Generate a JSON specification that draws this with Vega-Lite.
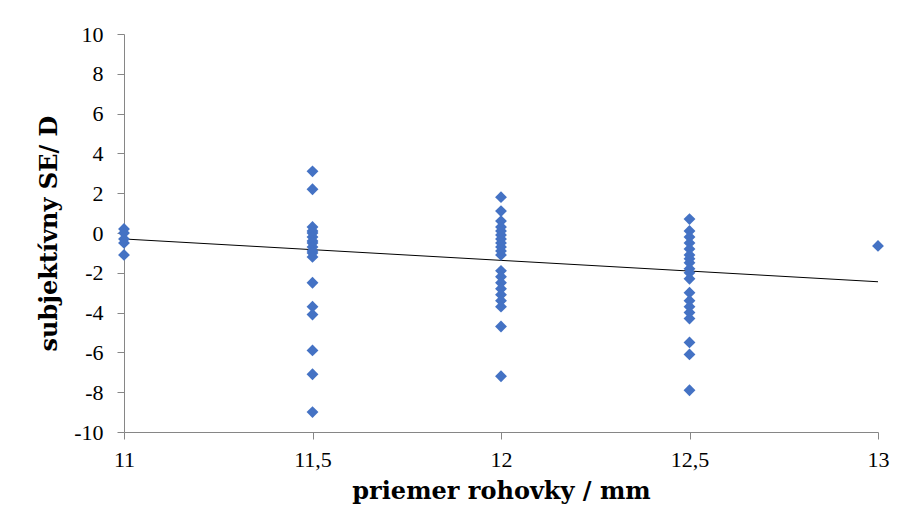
{
  "$schema": "https://vega.github.io/schema/vega-lite/v6.json",
  "width": 754,
  "height": 398,
  "autosize": "none",
  "padding": {"left": 124, "top": 34, "right": 33, "bottom": 83},
  "background": "white",
  "config": {"view": {"stroke": null}},
  "datasets": {
    "pts": [
      {"d": 11, "se": 0.2}, {"d": 11, "se": 0.0}, {"d": 11, "se": -0.3}, {"d": 11, "se": -0.5}, {"d": 11, "se": -1.1},
      {"d": 11.5, "se": 3.1}, {"d": 11.5, "se": 2.2}, {"d": 11.5, "se": 0.3}, {"d": 11.5, "se": 0.1}, {"d": 11.5, "se": 0.0},
      {"d": 11.5, "se": -0.2}, {"d": 11.5, "se": -0.4}, {"d": 11.5, "se": -0.5}, {"d": 11.5, "se": -0.7}, {"d": 11.5, "se": -0.9},
      {"d": 11.5, "se": -1.0}, {"d": 11.5, "se": -1.2}, {"d": 11.5, "se": -2.5}, {"d": 11.5, "se": -3.7}, {"d": 11.5, "se": -4.1},
      {"d": 11.5, "se": -5.9}, {"d": 11.5, "se": -7.1}, {"d": 11.5, "se": -9.0},
      {"d": 12, "se": 1.8}, {"d": 12, "se": 1.1}, {"d": 12, "se": 0.6}, {"d": 12, "se": 0.3}, {"d": 12, "se": 0.1},
      {"d": 12, "se": -0.1}, {"d": 12, "se": -0.3}, {"d": 12, "se": -0.5}, {"d": 12, "se": -0.7}, {"d": 12, "se": -0.9},
      {"d": 12, "se": -1.1}, {"d": 12, "se": -1.9}, {"d": 12, "se": -2.2}, {"d": 12, "se": -2.5}, {"d": 12, "se": -2.8},
      {"d": 12, "se": -3.1}, {"d": 12, "se": -3.4}, {"d": 12, "se": -3.7}, {"d": 12, "se": -4.7}, {"d": 12, "se": -7.2},
      {"d": 12.5, "se": 0.7}, {"d": 12.5, "se": 0.1}, {"d": 12.5, "se": -0.2}, {"d": 12.5, "se": -0.5}, {"d": 12.5, "se": -0.8},
      {"d": 12.5, "se": -1.1}, {"d": 12.5, "se": -1.3}, {"d": 12.5, "se": -1.5}, {"d": 12.5, "se": -1.8}, {"d": 12.5, "se": -2.0},
      {"d": 12.5, "se": -2.3}, {"d": 12.5, "se": -3.0}, {"d": 12.5, "se": -3.4}, {"d": 12.5, "se": -3.7}, {"d": 12.5, "se": -4.0},
      {"d": 12.5, "se": -4.3}, {"d": 12.5, "se": -5.5}, {"d": 12.5, "se": -6.1}, {"d": 12.5, "se": -7.9},
      {"d": 13, "se": -0.65}
    ],
    "trend": [
      {"d": 11, "se": -0.3},
      {"d": 13, "se": -2.45}
    ]
  },
  "encoding": {
    "x": {
      "field": "d", "type": "quantitative",
      "scale": {"domain": [11, 13], "nice": false, "zero": false},
      "axis": {
        "values": [11, 11.5, 12, 12.5, 13],
        "format": ".1~f",
        "labelExpr": "replace(datum.label, '.', ',')",
        "labelFlush": false,
        "labelOverlap": false,
        "labelBound": false,
        "grid": false,
        "domainColor": "#868686",
        "tickColor": "#868686",
        "tickSize": 7,
        "labelFont": "Liberation Serif",
        "labelFontSize": 22,
        "labelColor": "black",
        "labelPadding": 10,
        "title": "priemer rohovky / mm",
        "titleFont": "DejaVu Serif",
        "titleFontSize": 24,
        "titleFontWeight": "bold",
        "titleColor": "black",
        "titlePadding": 9
      }
    },
    "y": {
      "field": "se", "type": "quantitative",
      "scale": {"domain": [-10, 10], "nice": false},
      "axis": {
        "values": [-10, -8, -6, -4, -2, 0, 2, 4, 6, 8, 10],
        "labelExpr": "replace(datum.label, '\u2212', '-')",
        "labelOverlap": false,
        "labelFlush": false,
        "labelBound": false,
        "grid": false,
        "domainColor": "#868686",
        "tickColor": "#868686",
        "tickSize": 7,
        "labelFont": "Liberation Serif",
        "labelFontSize": 22,
        "labelColor": "black",
        "labelPadding": 14,
        "title": "subjektívny SE/ D",
        "titleFont": "DejaVu Serif",
        "titleFontSize": 24,
        "titleFontWeight": "bold",
        "titleColor": "black",
        "titlePadding": 12
      }
    }
  },
  "layer": [
    {
      "data": {"name": "trend"},
      "mark": {"type": "line", "color": "black", "strokeWidth": 1}
    },
    {
      "data": {"name": "pts"},
      "mark": {"type": "point", "shape": "diamond", "filled": true, "color": "#4472C4", "opacity": 1, "size": 140}
    }
  ]
}
